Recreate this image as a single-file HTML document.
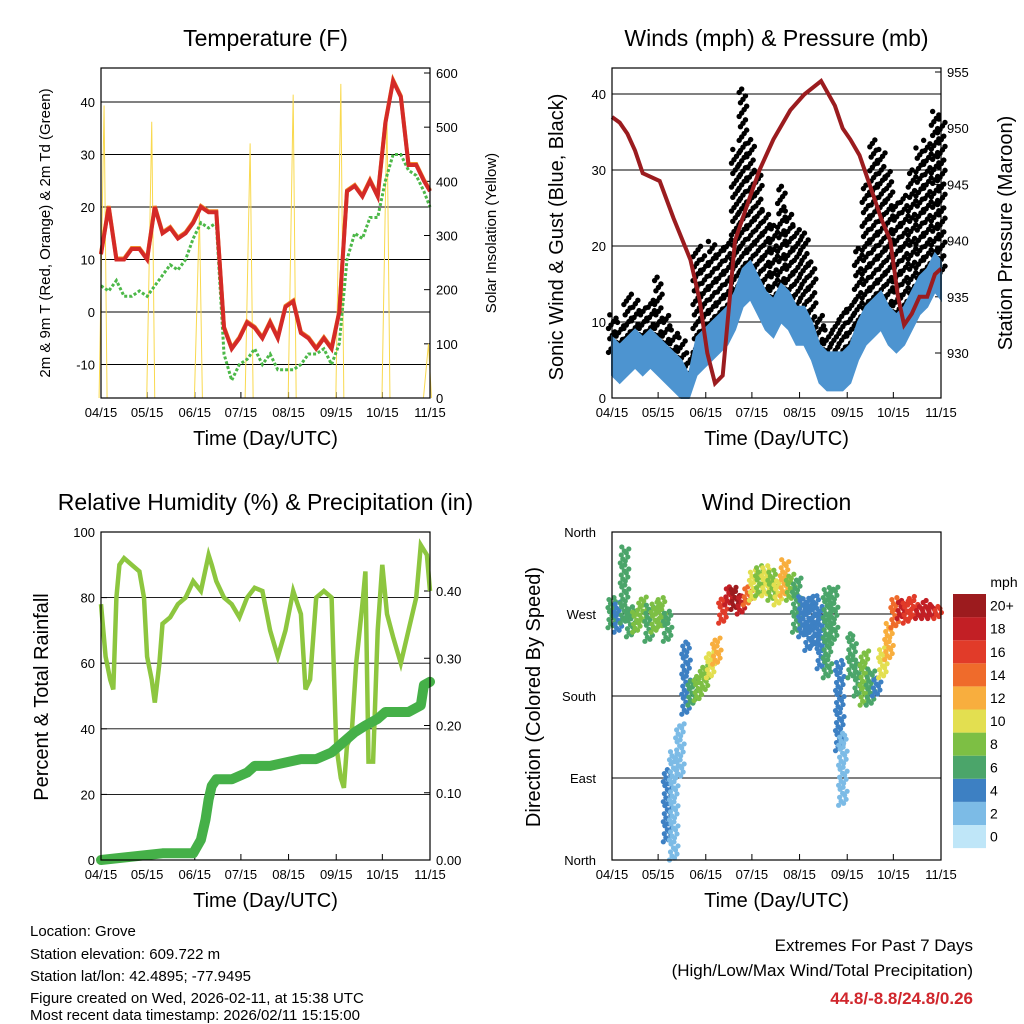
<!DOCTYPE html>
<html><head><meta charset="utf-8">
<style>
html,body{margin:0;padding:0;background:#fff;}
svg{display:block;font-family:"Liberation Sans",sans-serif;}
</style></head>
<body>
<svg id="s" width="1024" height="1024" viewBox="0 0 1024 1024" xmlns="http://www.w3.org/2000/svg">
<g id="g1"></g>
<g id="g2"></g>
<g id="g3"></g>
<g id="g4"></g>
<g font-size="15" fill="#000">
<text x="30" y="936">Location: Grove</text>
<text x="30" y="959">Station elevation: 609.722 m</text>
<text x="30" y="981">Station lat/lon: 42.4895; -77.9495</text>
<text x="30" y="1003">Figure created on Wed, 2026-02-11, at 15:38 UTC</text>
<text x="30" y="1020">Most recent data timestamp: 2026/02/11 15:15:00</text>
</g>
<g text-anchor="end">
<text x="973" y="951" font-size="17">Extremes For Past 7 Days</text>
<text x="973" y="976" font-size="17">(High/Low/Max Wind/Total Precipitation)</text>
<text x="973" y="1004" font-size="17" font-weight="bold" fill="#d0262c">44.8/-8.8/24.8/0.26</text>
</g>
</svg>
<script>
const xTickLabels=["04/15","05/15","06/15","07/15","08/15","09/15","10/15","11/15"];
const xTickDays=[0,30,61,91,122,153,183,214];
// Temperature
const tDays=[0,5,10,15,20,25,30,35,40,45,50,55,60,65,70,75,80,85,90,95,100,105,110,115,120,125,130,135,140,145,150,155,160,165,170,175,180,185,190,195,200,205,210,214];
const tRed=[11,20,10,10,12,12,10,20,15,16,14,15,17,20,19,19,-3,-7,-5,-2,-3,-5,-2,-5,1,2,-4,-5,-7,-5,-7,0,23,24,22,25,22,36,44,41,28,28,25,23];
const tGreen=[5,4,6,3,3,4,3,5,7,9,8,10,14,17,16,17,-8,-13,-10,-9,-7,-10,-8,-11,-11,-11,-10,-8,-8,-7,-10,-6,10,15,14,18,18,25,30,30,27,26,23,20];
const solarDays=[2,33,64,97,125,156,186,213];
const solarPeak=[540,510,340,470,560,580,530,100];
const tTicks=[-10,0,10,20,30,40];
const solTicks=[0,100,200,300,400,500,600];
// Winds
const wDays=[0,5,10,15,20,25,30,35,40,45,50,55,60,65,70,75,80,85,90,95,100,105,110,115,120,125,130,135,140,145,150,155,160,165,170,175,180,185,190,195,200,205,210,214];
const wind=[8,7,8,9,8,9,8,7,6,5,3,8,9,10,11,12,14,17,18,16,14,13,15,14,12,12,10,7,6,6,6,7,10,12,13,14,12,11,12,14,16,17,19,18];
const gust=[11,10,14,13,12,13,16,11,9,8,6,20,19,21,20,21,33,41,34,30,25,23,28,25,23,22,18,11,9,10,12,13,20,28,34,33,30,26,27,30,33,34,38,37];
const pDays=[0,5,10,15,20,31,40,51,57,62,67,72,80,90,96,105,116,125,136,145,150,155,161,165,170,175,181,186,190,195,200,205,210,214];
const pres=[951,950.5,949.5,948,946,945.3,942,938.3,934.7,930,927.3,928,940,944,946.3,949,951.6,953,954.2,952,950,949,947.6,946,944,942,940,935,932.5,933.5,935,935,937,937.5];
const wTicks=[0,10,20,30,40];
const pTicks=[930,935,940,945,950,955];
// RH & precip
const rhDays=[0,3,6,8,10,12,15,20,25,28,30,33,35,38,40,45,50,55,60,65,70,72,75,80,85,90,95,100,105,110,115,120,125,130,133,136,140,145,150,153,156,158,160,163,166,170,172,174,177,180,183,186,190,195,200,205,208,212,214];
const rh=[78,62,55,52,80,90,92,90,88,80,62,55,48,60,72,74,78,80,85,82,93,90,85,80,78,74,80,83,82,70,62,70,82,75,52,55,80,82,80,35,25,22,35,38,60,78,88,30,30,70,90,75,68,60,70,80,96,93,82];
const prDays=[0,40,60,65,68,70,72,75,85,95,100,110,130,140,150,155,165,172,180,185,200,208,210,214];
const precip=[0,0.01,0.01,0.03,0.06,0.09,0.11,0.12,0.12,0.13,0.14,0.14,0.15,0.15,0.16,0.17,0.19,0.2,0.21,0.22,0.22,0.23,0.26,0.265];
const rhTicks=[0,20,40,60,80,100];
const prTicks=[0,0.1,0.2,0.3,0.4];
// Wind direction
const dDays=[0,4,8,12,16,20,24,28,32,36,36,40,44,48,52,56,60,64,68,72,76,80,84,88,92,96,100,104,108,112,116,120,124,128,132,136,140,144,148,150,156,160,164,168,172,176,180,184,188,192,196,200,204,208,212];
const dLo=[255,250,260,245,250,260,240,250,255,240,20,0,90,160,170,175,185,200,215,260,280,275,270,280,285,290,290,285,280,290,285,250,245,230,235,210,200,240,120,60,200,180,170,170,180,200,220,255,265,260,265,265,265,265,265];
const dHi=[290,285,345,280,275,290,280,285,290,275,100,120,150,240,200,205,215,230,245,290,300,300,290,300,320,325,325,320,310,330,315,310,290,290,290,280,300,300,220,140,250,220,230,210,200,235,260,290,285,285,290,280,285,280,280];
const dSpd=[5,4,5,6,7,8,6,7,8,6,3,2,1,4,6,7,8,9,11,15,18,19,17,14,9,8,10,8,9,11,8,5,4,3,4,4,5,5,3,2,5,6,7,5,4,10,12,13,18,16,16,17,18,17,16];
const cbLabels=["0","2","4","6","8","10","12","14","16","18","20+"];
const cbColors=["#bfe6f8","#7cbbe6","#3d80c3","#4ba56a","#7dbf44","#e3df50","#f8ae3e","#ef6b2b","#e13b29","#c21f25","#9c1b1e"];

const NS="http://www.w3.org/2000/svg";
function el(p,t,a){const e=document.createElementNS(NS,t);for(const k in a)e.setAttribute(k,a[k]);p.appendChild(e);return e;}
function txt(p,x,y,s,a){const e=el(p,'text',Object.assign({x:x,y:y},a));e.textContent=s;return e;}
function lin(d0,d1,r0,r1){return v=>r0+(v-d0)*(r1-r0)/(d1-d0);}
function ptsStr(xs,ys,fx,fy){return xs.map((d,i)=>fx(d).toFixed(1)+','+fy(ys[i]).toFixed(1)).join(' ');}

function frame(g,L,T,R,B,title,xlab){
  const tt=txt(g,(L+R)/2,T-22,title,{'font-size':23,'text-anchor':'middle'});
  
  
  const fx=lin(0,214,L,R);
  xTickDays.forEach((d,i)=>{
    const x=fx(d);
    const t=el(g,'line',{x1:x,x2:x,y1:B,y2:B-6,stroke:'#000'});
    
    
    txt(g,x,B+19,xTickLabels[i],{'font-size':13,'text-anchor':'middle'});
  });
  const xl=txt(g,(L+R)/2,B+47,xlab,{'font-size':20,'text-anchor':'middle'});
  
  
  return fx;
}
function box(g,L,T,R,B){const r=el(g,'rect',{x:L,y:T,width:R-L,height:B-T,fill:'none',stroke:'#000','stroke-width':1.2});}
function yTicks(g,ticks,fy,x,side,fmt,grid,x2){
  ticks.forEach(v=>{
    const y=fy(v);
    if(grid){const gl=el(g,'line',{x1:x,x2:x2,y1:y,y2:y,stroke:'#000','stroke-width':0.9});}
    el(g,'line',{x1:x,x2:x+(side<0?6:-6),y1:y,y2:y,stroke:'#000'});
    txt(g,side<0?x-6:x+6,y+5,fmt(v),{'font-size':13,'text-anchor':side<0?'end':'start'});
  });
}
function vlabel(g,x,y,s,size,name){const t=txt(g,0,0,s,{'font-size':size,'text-anchor':'middle',transform:`translate(${x},${y}) rotate(-90)`});}

// Panel 1
(function(){
  const g=document.getElementById('g1');const L=101,T=68,R=430,B=398;
  const fx=frame(g,L,T,R,B,'Temperature (F)','Time (Day/UTC)');
  const fy=lin(0,40,312,102);const fs=lin(0,600,398,73);
  yTicks(g,tTicks,fy,L,-1,v=>v,true,R);
  yTicks(g,solTicks,fs,R,1,v=>v,false);
  solarDays.forEach((d,i)=>{
    const x=fx(d);
    const p=el(g,'polyline',{points:`${x-5},${B} ${x},${fs(solarPeak[i])} ${x+3},${B}`,fill:'none',stroke:'#f9d94e','stroke-width':1});
    
    
  });
  const gr=el(g,'polyline',{points:ptsStr(tDays,tGreen,fx,fy),fill:'none',stroke:'#4cb848','stroke-width':3,'stroke-dasharray':'3,2'});
  
  
  const o=el(g,'polyline',{points:ptsStr(tDays,tRed,fx,v=>fy(v)-1),fill:'none',stroke:'#f08a2a','stroke-width':4});
  
  
  const r=el(g,'polyline',{points:ptsStr(tDays,tRed,fx,fy),fill:'none',stroke:'#d42a27','stroke-width':4});
  
  
  box(g,L,T,R,B);
  vlabel(g,50,233,'2m & 9m T (Red, Orange) & 2m Td (Green)',15,'y-axis-title');
  vlabel(g,496,233,'Solar Insolation (Yellow)',15,'y-axis-title-right');
})();
// Panel 2
(function(){
  const g=document.getElementById('g2');const L=612,T=68,R=941,B=398;
  const fx=frame(g,L,T,R,B,'Winds (mph) & Pressure (mb)','Time (Day/UTC)');
  const fy=lin(0,40,398,94);const fp=lin(930,955,353,72);
  yTicks(g,wTicks,fy,L,-1,v=>v,true,R);
  yTicks(g,pTicks,fp,R,1,v=>v,false);
  const offs=[-3.5,-1,1.5,4,-2.2,0.3,2.8];
  wDays.forEach((d,i)=>{
    let k=0;
    for(let v=wind[i]-2;v<=gust[i];v+=0.45){
      const o=offs[k%7];k++;
      const c=el(g,'circle',{cx:fx(d)+o,cy:fy(Math.min(gust[i],v)),r:2.7,fill:'#000'});
      
      
    }
  });
  const band=wDays.map((d,i)=>fx(d).toFixed(1)+','+fy(wind[i]).toFixed(1)).concat(wDays.slice().reverse().map((d,j)=>{const i=wDays.length-1-j;return fx(d).toFixed(1)+','+fy(Math.max(0,wind[i]-5)).toFixed(1);})).join(' ');
  const b1=el(g,'polygon',{points:band,fill:'#4d94d0',stroke:'#4d94d0','stroke-width':2});
  
  
  const p=el(g,'polyline',{points:ptsStr(pDays,pres,fx,fp),fill:'none',stroke:'#9b1c1f','stroke-width':4});
  
  
  box(g,L,T,R,B);
  vlabel(g,563,237,'Sonic Wind & Gust (Blue, Black)',20,'y-axis-title');
  vlabel(g,1012,233,'Station Pressure (Maroon)',20,'y-axis-title-right');
})();
// Panel 3
(function(){
  const g=document.getElementById('g3');const L=101,T=532,R=430,B=860;
  const fx=frame(g,L,T,R,B,'Relative Humidity (%) & Precipitation (in)','Time (Day/UTC)');
  const fy=lin(0,100,860,532);const fp=lin(0,0.4,860,591);
  yTicks(g,rhTicks,fy,L,-1,v=>v,true,R);
  yTicks(g,prTicks,fp,R,1,v=>v.toFixed(2),false);
  const r=el(g,'polyline',{points:ptsStr(rhDays,rh,fx,fy),fill:'none',stroke:'#8dc63f','stroke-width':4.5});
  
  
  const p=el(g,'polyline',{points:ptsStr(prDays,precip,fx,fp),fill:'none',stroke:'#45b048','stroke-width':10,'stroke-linejoin':'round','stroke-linecap':'round'});
  
  
  box(g,L,T,R,B);
  vlabel(g,48,697,'Percent & Total Rainfall',20,'y-axis-title');
})();
// Panel 4
(function(){
  const g=document.getElementById('g4');const L=612,T=532,R=941,B=860;
  const fx=frame(g,L,T,R,B,'Wind Direction','Time (Day/UTC)');
  const fy=lin(0,360,860,532);
  const dl=['North','East','South','West','North'];
  [0,90,180,270,360].forEach((v,i)=>{
    const y=fy(v);
    el(g,'line',{x1:L,x2:R,y1:y,y2:y,stroke:'#000','stroke-width':0.9});
    txt(g,L-16,y+5,dl[i],{'font-size':13,'text-anchor':'end'});
  });
  const offs=[-4,1,-1.5,3.5,-3,2,0,4.5,-2.5,0.5];
  dDays.forEach((d,i)=>{
    const ci=Math.min(10,Math.round(dSpd[i]/2));
    let k=0;
    for(let v=dLo[i];v<=dHi[i];v+=2.2){
      const o=offs[k%10];k++;
      const c=el(g,'circle',{cx:fx(d)+o,cy:fy(v),r:2.6,fill:cbColors[ci]});
      
      
    }
  });
  box(g,L,T,R,B);
  vlabel(g,540,697,'Direction (Colored By Speed)',20,'y-axis-title');
  const cb=el(g,'g',{});
  
  
  txt(cb,1004,587,'mph',{'font-size':14,'text-anchor':'middle'});
  const h=23.1;
  cbColors.forEach((c,i)=>{
    const y=594+(10-i)*h;
    const r=el(cb,'rect',{x:953,y:y,width:33,height:h,fill:c});
    
    
    txt(cb,990,y+h/2+5,cbLabels[i],{'font-size':14});
  });
})();
</script>
</body></html>
